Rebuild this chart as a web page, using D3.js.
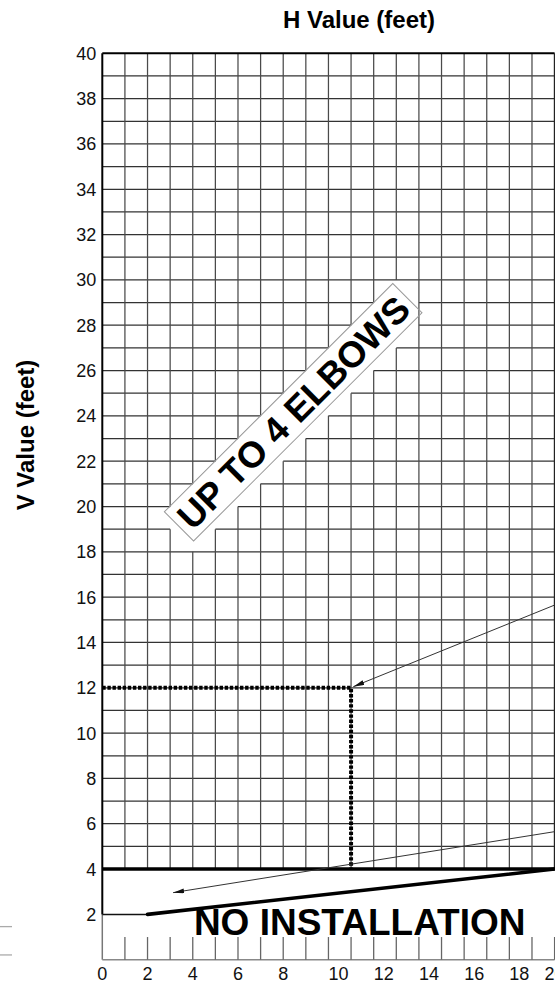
<!DOCTYPE html>
<meta charset="utf-8">
<style>
  body { margin: 0; background: #fff; }
  svg text { font-family: "Liberation Sans", Arial, Helvetica, sans-serif; }
  .tick { font-size: 18px; fill: #111; }
  .title { font-size: 24px; font-weight: bold; fill: #000; }
  .note { font-weight: bold; fill: #000; }
</style>
<body>
<div id="chart"></div>
<script src="https://d3js.org/d3.v7.min.js"></script>
<script>
  // values, all in feet
  const xTicks = [0, 2, 4, 6, 8, 10, 12, 14, 16, 18, 20];
  const yTicks = [2, 4, 6, 8, 10, 12, 14, 16, 18, 20, 22, 24, 26, 28, 30, 32, 34, 36, 38, 40];
  const gridU = [1, 2, 3, 4, 5, 6, 7, 8, 9, 10, 11, 12, 13, 14, 15, 16, 17, 18, 19];
  const gridV = [5, 6, 7, 8, 9, 10, 11, 12, 13, 14, 15, 16, 17, 18, 19, 20, 21, 22,
    23, 24, 25, 26, 27, 28, 29, 30, 31, 32, 33, 34, 35, 36, 37, 38, 39];
  const smallTicks = [1, 2, 3, 4, 5, 6, 7, 8, 9, 10, 11, 12, 13, 14, 15, 16, 17, 18, 19, 20];
  const stubs = [1.46, 0.21];

  const dotted = [[0, 12], [11, 12], [11, 4]];
  const upperArrow = [[20, 15.65], [11.1, 12.05]];
  const lowerArrow = [[20, 5.65], [3.13, 2.96]];
  const lowLine = [[0, 2], [2, 2]];
  const wedge = [[2, 2], [20, 4]];
  const elbowCenter = [8.44, 24.16];

  const W = 555, H = 983;
  const x = d3.scaleLinear().domain([0, 20]).range([102.3, 554.6]);
  const y = d3.scaleLinear().domain([0, 40]).range([959.7, 53.3]);
  const line = d3.line().x(d => x(d[0])).y(d => y(d[1]));

  const svg = d3.select("#chart").append("svg")
    .attr("width", W).attr("height", H);

  svg.append("defs").append("marker")
    .attr("id", "head")
    .attr("markerUnits", "userSpaceOnUse")
    .attr("markerWidth", 12).attr("markerHeight", 6)
    .attr("refX", 11).attr("refY", 2.5)
    .attr("orient", "auto")
    .append("path").attr("d", "M0,0 L11,2.5 L0,5 Z").attr("fill", "#111");

  // label box: the grid is cut away in a staircase around it
  const cx = x(elbowCenter[0]), cy = y(elbowCenter[1]);
  const boxLen = 323, boxWid = 41.3;
  const amin = -boxLen / 2, amax = boxLen / 2 - 8;
  const bmin = -boxWid / 2 + 1.5, bmax = boxWid / 2 - 1.5;
  const toLocal = (px, py) => {
    const dx = px - cx, dy = py - cy;
    return [(dx - dy) / Math.SQRT2, (dx + dy) / Math.SQRT2];
  };
  function hits(a, b) {
    const p0 = toLocal(x(a[0]), y(a[1])), p1 = toLocal(x(b[0]), y(b[1]));
    const d0 = p1[0] - p0[0], d1 = p1[1] - p0[1];
    let t0 = 0, t1 = 1;
    const checks = [[-d0, p0[0] - amin], [d0, amax - p0[0]], [-d1, p0[1] - bmin], [d1, bmax - p0[1]]];
    for (const [p, q] of checks) {
      if (Math.abs(p) < 1e-9) { if (q < 0) return false; continue; }
      const r = q / p;
      if (p < 0) { if (r > t1) return false; if (r > t0) t0 = r; }
      else { if (r < t0) return false; if (r < t1) t1 = r; }
    }
    return t1 - t0 > 1e-6;
  }

  // build runs of grid segments that stay clear of the box
  function runs(fixed, from, to, horizontal) {
    const out = [];
    let start = null;
    for (let k = from; k < to; k++) {
      const a = horizontal ? [k, fixed] : [fixed, k];
      const b = horizontal ? [k + 1, fixed] : [fixed, k + 1];
      const cut = hits(a, b);
      if (!cut && start === null) start = k;
      if (cut && start !== null) { out.push([start, k]); start = null; }
    }
    if (start !== null) out.push([start, to]);
    return out;
  }

  const hSegs = [];
  gridV.forEach(v => runs(v, 0, 20, true).forEach(r => hSegs.push([[r[0], v], [r[1], v]])));
  const vSegs = [];
  gridU.forEach(u => runs(u, 4, 40, false).forEach(r => vSegs.push([[u, r[0]], [u, r[1]]])));

  svg.append("g").selectAll("path").data(hSegs).join("path")
    .attr("d", line).attr("stroke", "#333").attr("stroke-width", 1.25).attr("fill", "none");
  svg.append("g").selectAll("path").data(vSegs).join("path")
    .attr("d", line).attr("stroke", "#4a4a4a").attr("stroke-width", 1.25).attr("fill", "none");

  // frame
  svg.append("path").attr("d", line([[0, 40], [20, 40]])).attr("stroke", "#000").attr("stroke-width", 2);
  svg.append("path").attr("d", line([[20, 40], [20, 4]])).attr("stroke", "#222").attr("stroke-width", 1.6);
  svg.append("path").attr("d", line([[0, 40], [0, 2]])).attr("stroke", "#000").attr("stroke-width", 2);
  svg.append("path").attr("d", line([[0, 2], [0, 0]])).attr("stroke", "#777").attr("stroke-width", 1.5);
  svg.append("path").attr("d", line([[0, 4], [20, 4]])).attr("stroke", "#000").attr("stroke-width", 3.4);

  // bottom axis line and small ticks
  svg.append("path").attr("d", line([[0, 0], [20, 0]])).attr("stroke", "#888").attr("stroke-width", 1.4);
  svg.append("g").selectAll("path").data(smallTicks).join("path")
    .attr("d", d => line([[d, 0], [d, 1]]))
    .attr("stroke", "#666").attr("stroke-width", 1.3);
  svg.append("g").selectAll("path").data(stubs).join("path")
    .attr("d", d => `M0,${y(d)}H12`)
    .attr("stroke", "#aaa").attr("stroke-width", 1.3);

  // no-installation boundary
  svg.append("path").attr("d", line(lowLine)).attr("stroke", "#111").attr("stroke-width", 1.5).attr("fill", "none");
  svg.append("path").attr("d", line(wedge)).attr("stroke", "#000").attr("stroke-width", 3.6)
    .attr("stroke-linecap", "round").attr("fill", "none");

  // reading example
  svg.append("path").attr("d", line(dotted)).attr("stroke", "#000").attr("stroke-width", 4)
    .attr("stroke-dasharray", "3.4,1.7").attr("fill", "none");
  [upperArrow, lowerArrow].forEach(a => {
    svg.append("path").attr("d", line(a)).attr("stroke", "#333").attr("stroke-width", 1)
      .attr("fill", "none").attr("marker-end", "url(#head)");
  });

  // rotated label box
  const lab = svg.append("g").attr("transform", `translate(${cx},${cy}) rotate(-45)`);
  lab.append("rect")
    .attr("x", -boxLen / 2).attr("y", -boxWid / 2)
    .attr("width", boxLen).attr("height", boxWid)
    .attr("fill", "none").attr("stroke", "#999").attr("stroke-width", 1);
  lab.append("text").attr("class", "note")
    .attr("text-anchor", "middle").attr("dy", "0.36em")
    .style("font-size", "36.5px")
    .text("UP TO 4 ELBOWS");

  svg.append("text").attr("class", "note")
    .attr("x", x(4.05)).attr("y", y(1.09))
    .style("font-size", "37px")
    .text("NO INSTALLATION");

  // tick labels
  svg.append("g").selectAll("text").data(yTicks).join("text")
    .attr("class", "tick")
    .attr("x", x(0) - 6).attr("y", d => y(d))
    .attr("dy", "0.36em").attr("text-anchor", "end")
    .text(d => d);
  svg.append("g").selectAll("text").data(xTicks).join("text")
    .attr("class", "tick")
    .attr("x", d => x(d)).attr("y", 980)
    .attr("text-anchor", d => (d >= 10 && d < 20) ? "start" : "middle")
    .text(d => d);

  // axis titles
  svg.append("text").attr("class", "title")
    .attr("x", 359).attr("y", 28).attr("text-anchor", "middle")
    .text("H Value (feet)");
  svg.append("text").attr("class", "title")
    .attr("transform", "translate(34,435) rotate(-90)")
    .attr("text-anchor", "middle")
    .text("V Value (feet)");
</script>
</body>
